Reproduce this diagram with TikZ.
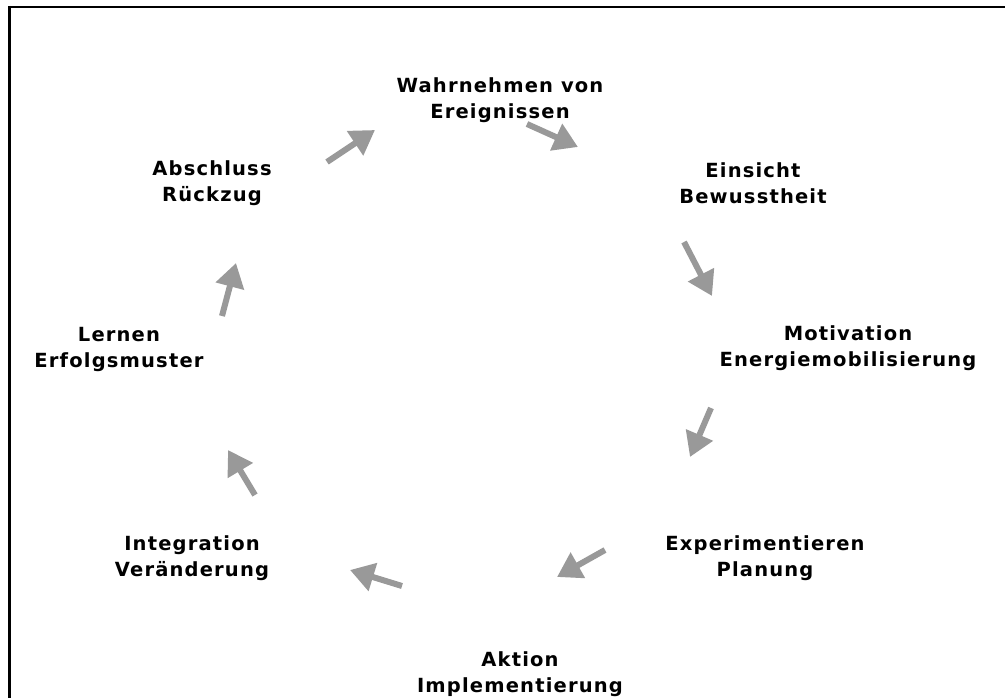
\documentclass[tikz,border=0pt]{standalone}
\usepackage{fontspec}
\setmainfont{DejaVu Sans}
\newfontfamily\lblfont{DejaVu Sans}[LetterSpace=6]
\usetikzlibrary{arrows.meta}
\definecolor{arrgray}{HTML}{999999}
\tikzset{
  lbl/.style={font=\lblfont\fontsize{19.5}{26}\selectfont\bfseries, align=center, inner sep=0pt, text=black},
  cyc/.style={draw=arrgray, line width=6pt, -{Triangle[length=24pt,width=28pt]}},
}
\begin{document}
\begin{tikzpicture}[x=1pt,y=-1pt]
\useasboundingbox (0,0) rectangle (1005,698);
\fill[white] (0,0) rectangle (1005,698);
\draw[line width=2pt] (8,7) -- (1005,7);
\draw[line width=3pt] (9,6) -- (9,698);
\node[lbl] (n1) at (500,100) {Wahrnehmen von\\Ereignissen};
\node[lbl] (n2) at (753,183) {Einsicht\\Bewusstheit};
\node[lbl] (n3) at (848,348) {Motivation\\Energiemobilisierung};
\node[lbl] (n4) at (765,558) {Experimentieren\\Planung};
\node[lbl] (n5) at (520,674) {Aktion\\Implementierung};
\node[lbl] (n6) at (192,558) {Integration\\Veränderung};
\node[lbl] (n7) at (119,349) {Lernen\\Erfolgsmuster};
\node[lbl] (n8) at (212,183) {Abschluss\\Rückzug};
\coordinate (a1s) at (327,162); \coordinate (a1e) at (375,130);
\coordinate (a2s) at (527,124); \coordinate (a2e) at (578,147);
\coordinate (a3s) at (684,242); \coordinate (a3e) at (712,296);
\coordinate (a4s) at (711,408); \coordinate (a4e) at (690,457);
\coordinate (a5s) at (605,550); \coordinate (a5e) at (557,577);
\coordinate (a6s) at (402,586); \coordinate (a6e) at (350,570);
\coordinate (a7s) at (255,495); \coordinate (a7e) at (228,450);
\coordinate (a8s) at (222,316); \coordinate (a8e) at (236,263);
\draw[cyc] (a1s) -- (a1e);
\draw[cyc] (a2s) -- (a2e);
\draw[cyc] (a3s) -- (a3e);
\draw[cyc] (a4s) -- (a4e);
\draw[cyc] (a5s) -- (a5e);
\draw[cyc] (a6s) -- (a6e);
\draw[cyc] (a7s) -- (a7e);
\draw[cyc] (a8s) -- (a8e);
\end{tikzpicture}
\end{document}
